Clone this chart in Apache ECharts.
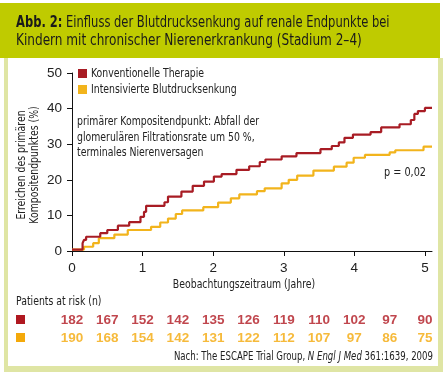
<!DOCTYPE html>
<html><head><meta charset="utf-8">
<script src="https://cdn.jsdelivr.net/npm/echarts@6/dist/echarts.min.js"></script>
<style>html,body{margin:0;padding:0;background:#fff}#c{width:448px;height:374px}</style>
</head><body><div id="c"></div>
<script>
const FONT = '"DejaVu Sans Condensed","DejaVu Sans",sans-serif';
const NUMFONT = '"Liberation Sans",Arial,sans-serif';
const SX = 0.83;
const RED = '#a81c24';
const ORANGE = '#f2b41c';
const RED_TXT = '#b01820';
const ORANGE_TXT = '#f4a90a';

const xTicks = [0, 1, 2, 3, 4, 5];
const yTicks = [0, 10, 20, 30, 40, 50];
const seriesNames = ['Konventionelle Therapie', 'Intensivierte Blutdrucksenkung'];

// [time (years), cumulative % after that time]
const conventional = [
  [0, 0.4], [0.15, 2.2], [0.17, 3.1], [0.2, 4.0], [0.4, 5.0], [0.5, 5.9], [0.65, 7.1],
  [0.81, 8.1], [0.97, 9.6], [1.02, 11.0], [1.05, 12.7], [1.31, 13.7], [1.36, 15.3],
  [1.55, 16.7], [1.71, 18.3], [1.87, 19.5], [2.01, 20.9], [2.12, 21.6], [2.33, 22.8],
  [2.51, 23.8], [2.66, 25.0], [2.74, 25.7], [2.97, 26.6], [3.18, 27.5], [3.52, 28.6],
  [3.68, 29.5], [3.78, 30.5], [3.86, 31.8], [3.98, 32.7], [4.23, 33.4], [4.38, 34.7],
  [4.64, 35.6], [4.8, 36.8], [4.85, 38.5], [4.9, 39.3], [5.0, 40.2], [5.1, 40.2]
];
const intensive = [
  [0, 0.4], [0.17, 1.2], [0.3, 2.2], [0.38, 3.6], [0.6, 4.6], [0.79, 5.9], [1.12, 6.8],
  [1.25, 8.0], [1.36, 9.1], [1.47, 10.4], [1.56, 11.4], [1.86, 12.3], [2.07, 13.6],
  [2.25, 14.8], [2.37, 15.9], [2.62, 16.8], [2.73, 17.6], [2.97, 19.0], [3.07, 20.0],
  [3.19, 21.2], [3.42, 22.6], [3.71, 23.7], [3.89, 24.8], [3.99, 26.2], [4.15, 27.0],
  [4.5, 27.7], [4.58, 28.3], [4.98, 29.3], [5.1, 29.3]
];

const riskTimes = [0, 0.5, 1, 1.5, 2, 2.5, 3, 3.5, 4, 4.5, 5];
const riskConventional = [182, 167, 152, 142, 135, 126, 119, 110, 102, 97, 90];
const riskIntensive = [190, 168, 154, 142, 131, 122, 112, 107, 97, 86, 75];

const chart = echarts.init(document.getElementById('c'), null, {renderer: 'canvas'});

const axisCommon = {
  axisLine: {lineStyle: {color: '#111', width: 1}},
  axisTick: {show: true, length: 5, lineStyle: {color: '#111', width: 1}},
  splitLine: {show: false},
  axisLabel: {color: '#222', fontFamily: NUMFONT, fontSize: 13.5}
};

function txt(x, y, text, extra, styleExtra) {
  return Object.assign({type: 'text', x: x, y: y, scaleX: SX, style: Object.assign({
    text: text, fontFamily: FONT, fontSize: 12.5, fill: '#222', verticalAlign: 'middle'
  }, styleExtra || {})}, extra || {});
}

chart.setOption({
  backgroundColor: '#fff',
  animation: false,
  textStyle: {fontFamily: FONT},
  grid: [
    {left: 72, top: 73, width: 360, height: 178},
    {left: 72, top: 311, width: 360, height: 36}
  ],
  xAxis: [
    Object.assign({}, axisCommon, {
      gridIndex: 0, type: 'value', min: 0, max: 5.1, interval: 1,
      axisTick: Object.assign({}, axisCommon.axisTick, {customValues: xTicks}),
      axisLabel: Object.assign({}, axisCommon.axisLabel, {customValues: xTicks, margin: 10})
    }),
    {gridIndex: 1, type: 'value', min: 0, max: 5.1, show: false}
  ],
  yAxis: [
    Object.assign({}, axisCommon, {
      gridIndex: 0, type: 'value', min: 0, max: 50, interval: 10,
      axisTick: Object.assign({}, axisCommon.axisTick, {customValues: yTicks}),
      axisLabel: Object.assign({}, axisCommon.axisLabel, {customValues: yTicks, margin: 10})
    }),
    {gridIndex: 1, type: 'category', data: ['c', 'i'], inverse: true, show: false}
  ],
  series: [
    {
      name: seriesNames[0], type: 'line', step: 'end', xAxisIndex: 0, yAxisIndex: 0,
      showSymbol: false, data: conventional, color: RED,
      lineStyle: {width: 2.2, color: RED}, z: 3
    },
    {
      name: seriesNames[1], type: 'line', step: 'end', xAxisIndex: 0, yAxisIndex: 0,
      showSymbol: false, data: intensive, color: ORANGE,
      lineStyle: {width: 2.2, color: ORANGE}, z: 2
    },
    {
      type: 'scatter', xAxisIndex: 1, yAxisIndex: 1, symbolSize: 0, silent: true,
      data: riskTimes.map((t, i) => [t, 0, riskConventional[i]]),
      label: {show: true, position: 'inside', formatter: p => p.value[2],
        color: RED_TXT, fontWeight: 'bold', fontSize: 13.5, fontFamily: NUMFONT}
    },
    {
      type: 'scatter', xAxisIndex: 1, yAxisIndex: 1, symbolSize: 0, silent: true,
      data: riskTimes.map((t, i) => [t, 1, riskIntensive[i]]),
      label: {show: true, position: 'inside', formatter: p => p.value[2],
        color: ORANGE_TXT, fontWeight: 'bold', fontSize: 13.5, fontFamily: NUMFONT}
    }
  ],
  graphic: [
    // frame
    {type: 'rect', shape: {x: 0, y: 3, width: 440, height: 55}, style: {fill: '#bfcb00'}, z: 0},
    {type: 'rect', shape: {x: 4, y: 58, width: 4, height: 314}, style: {fill: '#dfe5a4'}},
    {type: 'rect', shape: {x: 438, y: 58, width: 5, height: 314}, style: {fill: '#dfe5a4'}},
    {type: 'rect', shape: {x: 4, y: 366, width: 439, height: 6}, style: {fill: '#dfe5a4'}},
    // title
    txt(16, 23, '{b|Abb. 2:} Einfluss der Blutdrucksenkung auf renale Endpunkte bei', {scaleX: 0.8},
      {fontSize: 16, fill: '#1a1a1a', rich: {b: {fontFamily: FONT, fontSize: 16, fontWeight: 'bold', fill: '#1a1a1a'}}}),
    txt(16, 41, 'Kindern mit chronischer Nierenerkrankung (Stadium 2–4)', {scaleX: 0.84},
      {fontSize: 16, fill: '#1a1a1a'}),
    // y axis title
    {type: 'text', x: 28, y: 165, rotation: Math.PI / 2, scaleX: SX, style: {
      text: 'Erreichen des primären\nKompositendpunktes (%)', align: 'center', verticalAlign: 'middle',
      fontFamily: FONT, fontSize: 12.5, lineHeight: 13, fill: '#222'
    }},
    // legend
    {type: 'rect', shape: {x: 78, y: 69, width: 9, height: 9}, style: {fill: RED}},
    {type: 'rect', shape: {x: 78, y: 85, width: 9, height: 9}, style: {fill: ORANGE}},
    txt(91, 74, seriesNames[0]),
    txt(91, 90, seriesNames[1]),
    // annotation
    txt(77, 122, 'primärer Kompositendpunkt: Abfall der'),
    txt(77, 137.5, 'glomerulären Filtrationsrate um 50 %,'),
    txt(77, 153, 'terminales Nierenversagen'),
    txt(426, 173, 'p = 0,02', null, {align: 'right', fontSize: 13}),
    // x axis title
    txt(244, 285, 'Beobachtungszeitraum (Jahre)', null, {align: 'center'}),
    txt(16, 302, 'Patients at risk (n)'),
    {type: 'rect', shape: {x: 16, y: 315, width: 9, height: 9}, style: {fill: RED_TXT}},
    {type: 'rect', shape: {x: 16, y: 333, width: 9, height: 9}, style: {fill: ORANGE_TXT}},
    txt(433, 357, 'Nach: The ESCAPE Trial Group, {i|N Engl J Med} 361:1639, 2009', null,
      {align: 'right', fontSize: 11.5, rich: {i: {fontFamily: FONT, fontSize: 11.5, fontStyle: 'italic', fill: '#222'}}})
  ]
});
</script></body></html>
